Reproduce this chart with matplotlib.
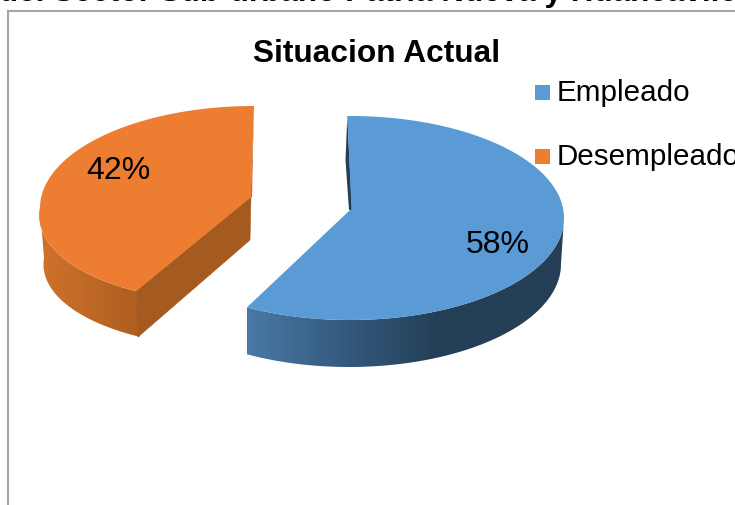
import numpy as np
import matplotlib
matplotlib.use("Agg")
import matplotlib.pyplot as plt
from matplotlib.colors import to_rgb
from matplotlib.patches import Polygon, Rectangle

categories = ["Empleado", "Desempleado"]
values = [58, 42]
chart_title = "Situacion Actual"
page_heading = "del Sector Sub-urbano Patria Nueva y Huancavilca"

plt.rcParams['font.family'] = ['Liberation Sans', 'DejaVu Sans']

# Ellipses of each slice, in pixels: top rim and bottom rim of the 3D wall
BLUE_TOP = dict(cx=350, cy=218, rx=214, ry_up=102, ry_low=102, shear=0)
BLUE_BOT = dict(cx=349, cy=264, rx=212, ry_up=103, ry_low=103, shear=0)
ORANGE_TOP = dict(cx=254, cy=208, rx=214, ry_up=102, ry_low=95, shear=17)
ORANGE_BOT = dict(cx=254, cy=258, rx=210, ry_up=90, ry_low=90, shear=15)


def rim(theta, cx, cy, rx, ry_up, ry_low, shear):
    """Point on the rim, theta in degrees clockwise from 12 o'clock."""
    t = np.radians(theta)
    s, c = np.sin(t), np.cos(t)
    x = cx + rx * s - shear * np.maximum(0, -c)
    y = cy - np.where(c > 0, ry_up, ry_low) * c
    return np.column_stack([x, y])


def wall(ax, theta, top, bottom, stops):
    # Outer wall: a horizontal colour ramp clipped to the band between the rims
    outline = np.vstack([rim(theta, **top), rim(theta, **bottom)[::-1]])
    x0, x1 = outline[:, 0].min(), outline[:, 0].max()
    y0, y1 = outline[:, 1].min(), outline[:, 1].max()
    xs = np.arange(x0, x1 + 1)
    stop_x = [p[0] for p in stops]
    stop_rgb = np.array([to_rgb(p[1]) for p in stops])
    grad = np.stack([np.interp(xs, stop_x, stop_rgb[:, i]) for i in range(3)], axis=-1)[np.newaxis, :, :]
    img = ax.imshow(grad, extent=(x0, x1, y1, y0), aspect='auto', interpolation='bilinear')
    clip = Polygon(outline, closed=True, transform=ax.transData)
    img.set_clip_path(clip)


fig = plt.figure(figsize=(7.35, 5.05), dpi=100)
ax = fig.add_axes([0, 0, 1, 1])
ax.axis('off')

# Heading of the page, cut by the upper edge
ax.text(-1.2, 0.5, page_heading, fontsize=22.6, fontweight='bold', va='baseline', ha='left')

# Chart frame
ax.plot([8.5, 8.5, 735], [505, 10.5, 10.5], color='#A6A6A6', lw=1.5, solid_joinstyle='miter')

split = values[0] / sum(values) * 360

# Orange slice, pulled out to the left
th = np.linspace(split, 270, 60)
wall(ax, th, ORANGE_TOP, ORANGE_BOT, [(44, '#CE712B'), (136, '#AF5F20')])
ax.add_patch(Polygon([(251, 197), (136, 291), (138, 337), (250, 240)], closed=True,
                     facecolor='#A55A20', edgecolor='#A55A20', lw=0.4))
th = np.linspace(split, 360, 120)
ax.add_patch(Polygon([(254, 106), (252.5, 150), (250.5, 197), (252, 197)], closed=True,
                     facecolor='#C56A28', edgecolor='none'))
pts = np.vstack([[(251, 197)], rim(th, **ORANGE_TOP)])
ax.add_patch(Polygon(pts, closed=True, facecolor='#ED7D31', edgecolor='none'))

# Blue slice
th = np.linspace(90, split, 120)
wall(ax, th, BLUE_TOP, BLUE_BOT, [(247, '#4A79A7'), (350, '#33587C'), (440, '#243F56'), (564, '#243F56')])
ax.add_patch(Polygon([(347.3, 116), (345.5, 160), (349, 210), (352, 210)], closed=True,
                     facecolor='#243F56', edgecolor='none'))
th = np.linspace(0, split, 200)
pts = np.vstack([[(351.5, 209), (349, 211)], rim(th, **BLUE_TOP)[::-1], [(347.3, 116)]])
ax.add_patch(Polygon(pts, closed=True, facecolor='#5B9BD5', edgecolor='none'))

# Texts
ax.text(376.5, 62, chart_title, fontsize=22.8, fontweight='bold', ha='center', va='baseline')
ax.text(118, 179, f"{values[1]}%", fontsize=23, ha='center', va='baseline')
ax.text(498, 253, f"{values[0]}%", fontsize=23, ha='center', va='baseline')

# Legend
colors = ['#5B9BD5', '#ED7D31']
for name, col, ytop, ybase in zip(categories, colors, [85, 149], [101, 165]):
    ax.add_patch(Rectangle((535, ytop), 15, 15, facecolor=col, edgecolor='none'))
    ax.text(557, ybase, name, fontsize=21.3, ha='left', va='baseline')

# imshow resets the view, so the pixel frame is set last
ax.set_xlim(0, 735)
ax.set_ylim(505, 0)

fig.savefig('out.png', dpi=100)
